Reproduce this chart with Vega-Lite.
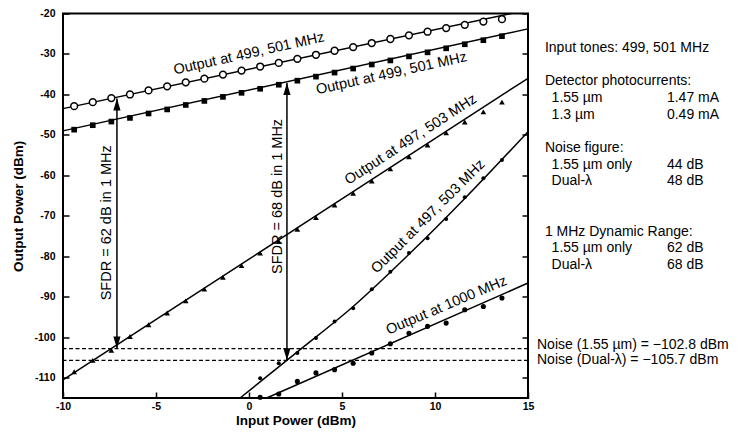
{
  "$schema": "https://vega.github.io/schema/vega-lite/v6.json",
  "width": 465,
  "height": 384.5,
  "autosize": {"type": "none"},
  "padding": {"left": 63, "top": 13.5, "right": 219, "bottom": 41},
  "background": "white",
  "config": {
    "view": {"stroke": "black", "strokeWidth": 2},
    "font": "Liberation Sans",
    "axis": {
      "grid": false, "domain": false, "ticks": true, "tickColor": "black", "tickWidth": 1.5, "tickSize": -6,
      "labelColor": "black", "labelFont": "Liberation Sans", "labelFontWeight": "bold", "labelFontSize": 10.5,
      "titleFont": "Liberation Sans", "titleFontWeight": "bold", "titleFontSize": 13.5, "titleColor": "black",
      "labelFlush": false, "labelOverlap": false, "labelBound": false
    },
    "text": {"font": "Liberation Sans", "color": "black"}
  },
  "datasets": {
    "fits": [
      {"s": "A", "x": -10, "y": -43.5}, {"s": "A", "x": 14.1, "y": -20},
      {"s": "B", "x": -10, "y": -49.0}, {"s": "B", "x": 15, "y": -23.8},
      {"s": "C", "x": -10, "y": -110.5}, {"s": "C", "x": 15, "y": -36.0},
      {"s": "D", "x": -0.48, "y": -115}, {"s": "D", "x": 2.6, "y": -103.6}, {"s": "D", "x": 5.6, "y": -92.4}, {"s": "D", "x": 8.6, "y": -79.5}, {"s": "D", "x": 11.6, "y": -65.7}, {"s": "D", "x": 15, "y": -49.2},
      {"s": "E", "x": 0.95, "y": -115}, {"s": "E", "x": 15, "y": -86.6}
    ],
    "pts": [
      {"s": "A", "x": -9.4, "y": -42.9}, {"s": "A", "x": -8.4, "y": -41.9}, {"s": "A", "x": -7.4, "y": -40.9}, {"s": "A", "x": -6.4, "y": -40.0},
      {"s": "A", "x": -5.4, "y": -39.0}, {"s": "A", "x": -4.4, "y": -38.0}, {"s": "A", "x": -3.4, "y": -37.0}, {"s": "A", "x": -2.4, "y": -36.1},
      {"s": "A", "x": -1.4, "y": -35.1}, {"s": "A", "x": -0.4, "y": -34.1}, {"s": "A", "x": 0.6, "y": -33.1}, {"s": "A", "x": 1.6, "y": -32.2},
      {"s": "A", "x": 2.6, "y": -31.2}, {"s": "A", "x": 3.6, "y": -30.2}, {"s": "A", "x": 4.6, "y": -29.2}, {"s": "A", "x": 5.6, "y": -28.3},
      {"s": "A", "x": 6.6, "y": -27.3}, {"s": "A", "x": 7.6, "y": -26.3}, {"s": "A", "x": 8.6, "y": -25.4}, {"s": "A", "x": 9.6, "y": -24.5},
      {"s": "A", "x": 10.6, "y": -23.6}, {"s": "A", "x": 11.6, "y": -22.8}, {"s": "A", "x": 12.6, "y": -22.0}, {"s": "A", "x": 13.6, "y": -21.4},
      {"s": "B", "x": -9.4, "y": -48.7}, {"s": "B", "x": -8.4, "y": -47.6}, {"s": "B", "x": -7.4, "y": -46.7}, {"s": "B", "x": -6.4, "y": -45.8},
      {"s": "B", "x": -5.4, "y": -44.7}, {"s": "B", "x": -4.4, "y": -43.7}, {"s": "B", "x": -3.4, "y": -42.6}, {"s": "B", "x": -2.4, "y": -41.6},
      {"s": "B", "x": -1.4, "y": -40.6}, {"s": "B", "x": -0.4, "y": -39.6}, {"s": "B", "x": 0.6, "y": -38.6}, {"s": "B", "x": 1.6, "y": -37.6},
      {"s": "B", "x": 2.6, "y": -36.6}, {"s": "B", "x": 3.6, "y": -35.6}, {"s": "B", "x": 4.6, "y": -34.6}, {"s": "B", "x": 5.6, "y": -33.6},
      {"s": "B", "x": 6.6, "y": -32.6}, {"s": "B", "x": 7.6, "y": -31.6}, {"s": "B", "x": 8.6, "y": -30.6}, {"s": "B", "x": 9.6, "y": -29.6},
      {"s": "B", "x": 10.6, "y": -28.6}, {"s": "B", "x": 11.6, "y": -27.6}, {"s": "B", "x": 12.6, "y": -26.6}, {"s": "B", "x": 13.6, "y": -25.6},
      {"s": "C", "x": -9.4, "y": -108.5}, {"s": "C", "x": -8.4, "y": -105.7}, {"s": "C", "x": -7.4, "y": -103.2}, {"s": "C", "x": -6.4, "y": -99.8},
      {"s": "C", "x": -5.4, "y": -96.9}, {"s": "C", "x": -4.4, "y": -94.0}, {"s": "C", "x": -3.4, "y": -91.0}, {"s": "C", "x": -2.4, "y": -88.1},
      {"s": "C", "x": -1.4, "y": -85.2}, {"s": "C", "x": -0.4, "y": -82.3}, {"s": "C", "x": 0.6, "y": -79.2}, {"s": "C", "x": 1.6, "y": -76.3},
      {"s": "C", "x": 2.6, "y": -73.3}, {"s": "C", "x": 3.6, "y": -70.4}, {"s": "C", "x": 4.6, "y": -67.3}, {"s": "C", "x": 5.6, "y": -64.4},
      {"s": "C", "x": 6.6, "y": -61.4}, {"s": "C", "x": 7.6, "y": -58.4}, {"s": "C", "x": 8.6, "y": -55.4}, {"s": "C", "x": 9.6, "y": -52.5},
      {"s": "C", "x": 10.6, "y": -49.5}, {"s": "C", "x": 11.6, "y": -46.8}, {"s": "C", "x": 12.6, "y": -44.3}, {"s": "C", "x": 13.6, "y": -41.9},
      {"s": "D", "x": 0.6, "y": -110.1}, {"s": "D", "x": 1.6, "y": -106.4}, {"s": "D", "x": 2.6, "y": -103.9}, {"s": "D", "x": 3.6, "y": -100.2},
      {"s": "D", "x": 4.6, "y": -96.1}, {"s": "D", "x": 5.6, "y": -92.8}, {"s": "D", "x": 6.6, "y": -88.1}, {"s": "D", "x": 7.6, "y": -83.8},
      {"s": "D", "x": 8.6, "y": -79.2}, {"s": "D", "x": 9.6, "y": -75.5}, {"s": "D", "x": 10.6, "y": -70.8}, {"s": "D", "x": 11.6, "y": -65.4},
      {"s": "D", "x": 12.6, "y": -60.7}, {"s": "D", "x": 13.6, "y": -56.2},
      {"s": "E", "x": 0.6, "y": -114.8}, {"s": "E", "x": 1.6, "y": -114.0}, {"s": "E", "x": 2.6, "y": -110.9}, {"s": "E", "x": 3.6, "y": -108.8},
      {"s": "E", "x": 4.6, "y": -108.0}, {"s": "E", "x": 5.6, "y": -106.4}, {"s": "E", "x": 6.6, "y": -103.9}, {"s": "E", "x": 7.6, "y": -101.6},
      {"s": "E", "x": 8.6, "y": -99.0}, {"s": "E", "x": 9.6, "y": -97.3}, {"s": "E", "x": 10.6, "y": -96.5}, {"s": "E", "x": 11.6, "y": -93.2},
      {"s": "E", "x": 12.6, "y": -92.4}, {"s": "E", "x": 13.6, "y": -90.3}
    ],
    "noise": [
      {"n": 1, "y": -102.8, "label": "Noise (1.55 µm) = −102.8 dBm"},
      {"n": 2, "y": -105.7, "label": "Noise (Dual-λ) = −105.7 dBm"}
    ],
    "arrows": [
      {"x": -7.1, "top": -41.0, "bottom": -102.8},
      {"x": 2.04, "top": -37.2, "bottom": -105.7}
    ],
    "ann": [
      {"a": "r12", "x": 0.0, "y": -30.0, "t": "Output at 499, 501 MHz"},
      {"a": "r12", "x": 7.66, "y": -34.9, "t": "Output at 499, 501 MHz"},
      {"a": "r33", "x": 8.7, "y": -51.2, "t": "Output at 497, 503 MHz"},
      {"a": "r45", "x": 9.64, "y": -70.2, "t": "Output at 497, 503 MHz"},
      {"a": "r23", "x": 10.62, "y": -92.2, "t": "Output at 1000 MHz"},
      {"a": "r90", "x": -7.63, "y": -71.7, "t": "SFDR = 62 dB in 1 MHz"},
      {"a": "r90", "x": 1.58, "y": -65.2, "t": "SFDR = 68 dB in 1 MHz"}
    ],
    "legend": [
      {"x": 15.91, "y": -28.6, "t": "Input tones: 499, 501 MHz"},
      {"x": 15.91, "y": -36.8, "t": "Detector photocurrents:"},
      {"x": 16.27, "y": -40.9, "t": "1.55 µm"},
      {"x": 22.47, "y": -40.9, "t": "1.47 mA"},
      {"x": 16.27, "y": -45.1, "t": "1.3 µm"},
      {"x": 22.47, "y": -45.1, "t": "0.49 mA"},
      {"x": 15.91, "y": -53.3, "t": "Noise figure:"},
      {"x": 16.27, "y": -57.4, "t": "1.55 µm only"},
      {"x": 22.47, "y": -57.4, "t": "44 dB"},
      {"x": 16.27, "y": -61.5, "t": "Dual-λ"},
      {"x": 22.47, "y": -61.5, "t": "48 dB"},
      {"x": 15.91, "y": -73.9, "t": "1 MHz Dynamic Range:"},
      {"x": 16.27, "y": -78.0, "t": "1.55 µm only"},
      {"x": 22.47, "y": -78.0, "t": "62 dB"},
      {"x": 16.27, "y": -82.1, "t": "Dual-λ"},
      {"x": 22.47, "y": -82.1, "t": "68 dB"}
    ]
  },
  "resolve": {"axis": {"y": "independent"}},
  "layer": [
    {
      "data": {"name": "fits"},
      "mark": {"type": "line", "color": "black", "strokeWidth": 1.5, "interpolate": "monotone"},
      "encoding": {
        "x": {"field": "x", "type": "quantitative",
              "scale": {"domain": [-10, 15], "nice": false, "zero": false},
              "axis": {"values": [-10, -5, 0, 5, 10, 15], "title": "Input Power (dBm)", "labelPadding": 9, "titlePadding": 2, "labelExpr": "'' + datum.value"}},
        "y": {"field": "y", "type": "quantitative",
              "scale": {"domain": [-115, -20], "nice": false, "zero": false},
              "axis": {"values": [-110, -100, -90, -80, -70, -60, -50, -40, -30, -20], "title": "Output Power (dBm)", "labelPadding": 14, "titlePadding": 8, "labelExpr": "'' + datum.value"}},
        "detail": {"field": "s"}
      }
    },
    {
      "data": {"name": "noise"},
      "mark": {"type": "rule", "color": "black", "strokeWidth": 1.3, "strokeDash": [4, 2.5]},
      "encoding": {
        "y": {"field": "y", "type": "quantitative",
              "axis": {"orient": "right", "values": [-110, -100, -90, -80, -70, -60, -50, -40, -30, -20], "labels": false, "title": null}}
      }
    },
    {
      "data": {"name": "noise"},
      "transform": [{"filter": "datum.n == 1"}],
      "mark": {"type": "text", "align": "left", "baseline": "middle", "dx": 9, "dy": -4, "fontSize": 14},
      "encoding": {
        "x": {"datum": 15, "type": "quantitative"},
        "y": {"field": "y", "type": "quantitative", "axis": null},
        "text": {"field": "label"}
      }
    },
    {
      "data": {"name": "noise"},
      "transform": [{"filter": "datum.n == 2"}],
      "mark": {"type": "text", "align": "left", "baseline": "middle", "dx": 9, "dy": 0, "fontSize": 14},
      "encoding": {
        "x": {"datum": 15, "type": "quantitative"},
        "y": {"field": "y", "type": "quantitative", "axis": null},
        "text": {"field": "label"}
      }
    },
    {
      "data": {"name": "arrows"},
      "mark": {"type": "rule", "color": "black", "strokeWidth": 1.5},
      "encoding": {
        "x": {"field": "x", "type": "quantitative"},
        "y": {"field": "top", "type": "quantitative", "axis": null},
        "y2": {"field": "bottom"}
      }
    },
    {
      "data": {"name": "arrows"},
      "mark": {"type": "point", "shape": "M0,0L-0.3,1L0.3,1Z", "filled": true, "color": "black", "size": 576, "opacity": 1},
      "encoding": {
        "x": {"field": "x", "type": "quantitative"},
        "y": {"field": "top", "type": "quantitative", "axis": null}
      }
    },
    {
      "data": {"name": "arrows"},
      "mark": {"type": "point", "shape": "M0,0L-0.3,-1L0.3,-1Z", "filled": true, "color": "black", "size": 576, "opacity": 1},
      "encoding": {
        "x": {"field": "x", "type": "quantitative"},
        "y": {"field": "bottom", "type": "quantitative", "axis": null}
      }
    },
    {
      "data": {"name": "pts"},
      "transform": [{"filter": "datum.s == 'A'"}],
      "mark": {"type": "point", "shape": "circle", "filled": true, "fill": "white", "stroke": "black", "strokeWidth": 1.5, "size": 46, "opacity": 1},
      "encoding": {
        "x": {"field": "x", "type": "quantitative"},
        "y": {"field": "y", "type": "quantitative", "axis": null}
      }
    },
    {
      "data": {"name": "pts"},
      "transform": [{"filter": "datum.s == 'B'"}],
      "mark": {"type": "point", "shape": "square", "filled": true, "color": "black", "size": 32, "opacity": 1},
      "encoding": {
        "x": {"field": "x", "type": "quantitative"},
        "y": {"field": "y", "type": "quantitative", "axis": null}
      }
    },
    {
      "data": {"name": "pts"},
      "transform": [{"filter": "datum.s == 'C'"}],
      "mark": {"type": "point", "shape": "triangle-up", "filled": true, "color": "black", "size": 32, "opacity": 1},
      "encoding": {
        "x": {"field": "x", "type": "quantitative"},
        "y": {"field": "y", "type": "quantitative", "axis": null}
      }
    },
    {
      "data": {"name": "pts"},
      "transform": [{"filter": "datum.s == 'D'"}],
      "mark": {"type": "point", "shape": "circle", "filled": true, "color": "black", "size": 16, "opacity": 1},
      "encoding": {
        "x": {"field": "x", "type": "quantitative"},
        "y": {"field": "y", "type": "quantitative", "axis": null}
      }
    },
    {
      "data": {"name": "pts"},
      "transform": [{"filter": "datum.s == 'E'"}],
      "mark": {"type": "point", "shape": "circle", "filled": true, "color": "black", "size": 26, "opacity": 1},
      "encoding": {
        "x": {"field": "x", "type": "quantitative"},
        "y": {"field": "y", "type": "quantitative", "axis": null}
      }
    },
    {
      "data": {"name": "ann"},
      "transform": [{"filter": "datum.a == 'r12'"}],
      "mark": {"type": "text", "align": "center", "baseline": "middle", "fontSize": 14.5, "angle": 347.5},
      "encoding": {
        "x": {"field": "x", "type": "quantitative"},
        "y": {"field": "y", "type": "quantitative", "axis": null},
        "text": {"field": "t"}
      }
    },
    {
      "data": {"name": "ann"},
      "transform": [{"filter": "datum.a == 'r33'"}],
      "mark": {"type": "text", "align": "center", "baseline": "middle", "fontSize": 14.5, "angle": 327},
      "encoding": {
        "x": {"field": "x", "type": "quantitative"},
        "y": {"field": "y", "type": "quantitative", "axis": null},
        "text": {"field": "t"}
      }
    },
    {
      "data": {"name": "ann"},
      "transform": [{"filter": "datum.a == 'r45'"}],
      "mark": {"type": "text", "align": "center", "baseline": "middle", "fontSize": 14.5, "angle": 315},
      "encoding": {
        "x": {"field": "x", "type": "quantitative"},
        "y": {"field": "y", "type": "quantitative", "axis": null},
        "text": {"field": "t"}
      }
    },
    {
      "data": {"name": "ann"},
      "transform": [{"filter": "datum.a == 'r23'"}],
      "mark": {"type": "text", "align": "center", "baseline": "middle", "fontSize": 14.5, "angle": 337},
      "encoding": {
        "x": {"field": "x", "type": "quantitative"},
        "y": {"field": "y", "type": "quantitative", "axis": null},
        "text": {"field": "t"}
      }
    },
    {
      "data": {"name": "ann"},
      "transform": [{"filter": "datum.a == 'r90'"}],
      "mark": {"type": "text", "align": "center", "baseline": "middle", "fontSize": 14.5, "angle": 270},
      "encoding": {
        "x": {"field": "x", "type": "quantitative"},
        "y": {"field": "y", "type": "quantitative", "axis": null},
        "text": {"field": "t"}
      }
    },
    {
      "data": {"name": "legend"},
      "mark": {"type": "text", "align": "left", "baseline": "middle", "fontSize": 14},
      "encoding": {
        "x": {"field": "x", "type": "quantitative"},
        "y": {"field": "y", "type": "quantitative", "axis": null},
        "text": {"field": "t"}
      }
    }
  ]
}
